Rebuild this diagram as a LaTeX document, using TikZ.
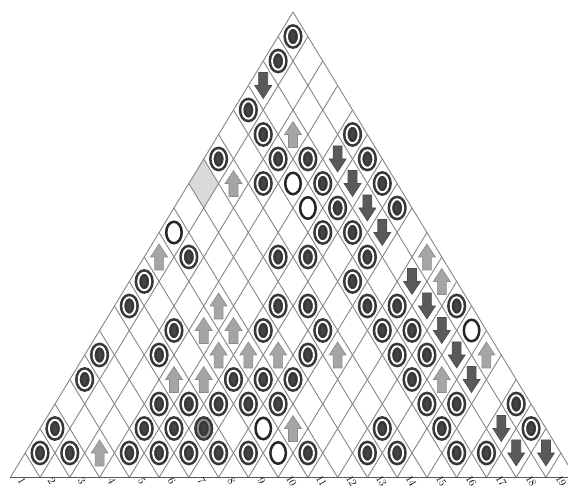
\documentclass[tikz,border=0pt]{standalone}
\usetikzlibrary{shapes.geometric}
\definecolor{gridgray}{HTML}{858585}
\definecolor{ringdark}{HTML}{383838}
\definecolor{coredark}{HTML}{454545}
\definecolor{uplight}{HTML}{A5A5A5}
\definecolor{downdark}{HTML}{5A5A5A}
\definecolor{cellgray}{HTML}{DADADA}

\begin{document}
\begin{tikzpicture}[x=1pt, y=1pt,
    gridline/.style={draw=gridgray, line width=0.9pt},
    baseaxis/.style={draw=black!65, line width=1.2pt},
    dot/.style={ellipse, inner sep=0pt, minimum width=12pt, minimum height=17.5pt, draw=ringdark, fill=coredark, line width=2.6pt, double=white, double distance=1.9pt},
    darkdot/.style={dot, double=black!45},
    hollow/.style={ellipse, inner sep=0pt, minimum width=15.5pt, minimum height=21.5pt, draw=black!85, line width=2.5pt, fill=white},
    arrowbox/.style={rectangle, inner sep=0pt, minimum width=19pt, minimum height=28pt},
    up/.style={arrowbox, path picture={
        \filldraw[draw=black!45, fill=uplight, line width=0.6pt]
          ([yshift=13pt]path picture bounding box.center) -- ++(-8.5pt,-13pt) -- ++(4pt,0pt)
          -- ++(0pt,-13pt) -- ++(9pt,0pt) -- ++(0pt,13pt) -- ++(4pt,0pt) -- cycle;}},
    down/.style={arrowbox, path picture={
        \filldraw[draw=black!70, fill=downdark, line width=0.6pt]
          ([yshift=-13pt]path picture bounding box.center) -- ++(-8.5pt,13pt) -- ++(4pt,0pt)
          -- ++(0pt,13pt) -- ++(9pt,0pt) -- ++(0pt,-13pt) -- ++(4pt,0pt) -- cycle;}},
    numlbl/.style={font=\fontsize{11}{11}\selectfont, rotate=-60, inner sep=0pt},
]
\useasboundingbox (0,0) rectangle (568,490);
\clip (0,0) rectangle (568,490);

% lattice: (a,b) = a steps down-left, b steps down-right from the apex
\begin{scope}[shift={(293pt,478pt)}, x={(-14.88pt,-24.5pt)}, y={(14.88pt,-24.5pt)}]
  \fill[cellgray] (6,0) -- (7,0) -- (7,1) -- (6,1) -- cycle;

  % grid
  \foreach \a in {0,...,18}
    \draw[gridline] (\a,0) -- (\a,{19-\a});
  \foreach \b in {0,...,18}
    \draw[gridline] (0,\b) -- ({19-\b},\b);
  \draw[baseaxis] (19,0) -- (0,19);

  % cell marks: row/position/kind
  \foreach \r/\i/\k in {0/0/dot, 1/0/dot, 2/0/down, 3/0/dot,
      4/1/dot, 4/2/up, 4/4/dot,
      5/0/dot, 5/2/dot, 5/3/dot, 5/4/down, 5/5/dot,
      6/1/up, 6/2/dot, 6/3/hollow, 6/4/dot, 6/5/down, 6/6/dot,
      7/4/hollow, 7/5/dot, 7/6/down, 7/7/dot,
      8/0/hollow, 8/5/dot, 8/6/dot, 8/7/down,
      9/0/up, 9/1/dot, 9/4/dot, 9/5/dot, 9/7/dot, 9/9/up,
      10/0/dot, 10/7/dot, 10/9/down, 10/10/up,
      11/0/dot, 11/3/up, 11/5/dot, 11/6/dot, 11/8/dot, 11/9/dot, 11/10/down, 11/11/dot,
      12/2/dot, 12/3/up, 12/4/up, 12/5/dot, 12/7/dot, 12/9/dot, 12/10/dot, 12/11/down, 12/12/hollow,
      13/0/dot, 13/2/dot, 13/4/up, 13/5/up, 13/6/up, 13/7/dot, 13/8/up, 13/10/dot, 13/11/dot, 13/12/down, 13/13/up,
      14/0/dot, 14/3/up, 14/4/up, 14/5/dot, 14/6/dot, 14/7/dot, 14/11/dot, 14/12/up, 14/13/down,
      15/3/dot, 15/4/dot, 15/5/dot, 15/6/dot, 15/7/dot, 15/12/dot, 15/13/dot, 15/15/dot,
      16/0/dot, 16/3/dot, 16/4/dot, 16/5/darkdot, 16/7/hollow, 16/8/up, 16/11/dot, 16/13/dot, 16/15/down, 16/16/dot,
      17/0/dot, 17/1/dot, 17/2/up, 17/3/dot, 17/4/dot, 17/5/dot, 17/6/dot, 17/7/dot, 17/8/hollow, 17/9/dot,
      17/11/dot, 17/12/dot, 17/14/dot, 17/15/dot, 17/16/down, 17/17/down}
    \node[\k] (s\r-\i) at ({\r-\i+0.5},{\i+0.5}) {};
\end{scope}

% position numbers under the base
\foreach \n in {1,...,19}
  \node[numlbl] (lbl\n) at ({22+29.95*(\n-1)},9) {\n};
\end{tikzpicture}
\end{document}
